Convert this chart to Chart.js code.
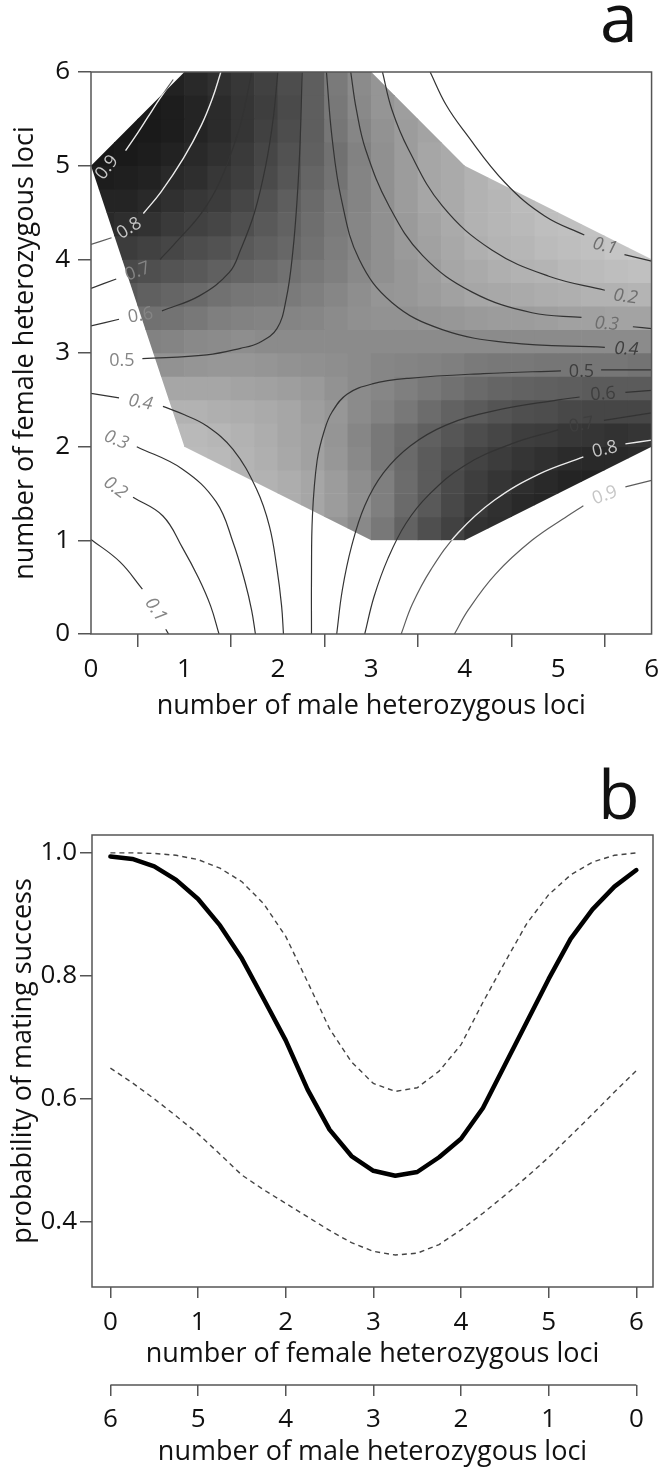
<!DOCTYPE html>
<html>
<head>
<meta charset="utf-8">
<script src="https://cdn.jsdelivr.net/npm/chart.js@4.4.1/dist/chart.umd.min.js"></script>
<style>
  html, body { margin: 0; padding: 0; background: #fff; }
  body { width: 666px; height: 1475px; position: relative; overflow: hidden; font-family: "Open Sans", sans-serif; }
  #wrapA { position: absolute; left: 0; top: 0; width: 666px; height: 740px; }
  #wrapB { position: absolute; left: 0; top: 740px; width: 666px; height: 735px; }
  .panel { position: absolute; font-size: 68px; line-height: 1; color: #111; }
</style>
</head>
<body>
<div id="wrapA"><canvas id="chartA"></canvas></div>
<div id="wrapB"><canvas id="chartB"></canvas></div>
<div class="panel" style="left:600px;top:-18px">a</div>
<div class="panel" style="left:598px;top:759px">b</div>
<script>
"use strict";

// ---------- panel a : shaded cells (0.25 x 0.25 grid, rows from y = 1.0 upward) ----------
const cellSize = 0.25;
const heatFirstRow = 4;
const heatStartCol = [10, 8, 6, 4, 3, 3, 3, 2, 2, 2, 1, 1, 1, 0, 0, 0, 0, 1, 2, 3];
const heatRows = [
  [33,38,45,54,62,68,74,76],
  [23,26,30,35,42,51,58,65,71,75,78,79],
  [20,21,23,26,30,36,42,50,57,64,69,73,76,78,80,81],
  [17,18,20,22,25,28,32,38,45,51,57,62,67,70,73,75,77,78,78,77],
  [18,18,19,21,23,26,28,33,39,45,50,55,59,63,66,69,70,72,73,74,73],
  [21,21,22,23,24,26,29,32,37,41,45,50,54,57,60,62,63,65,66,66,66],
  [26,26,26,27,28,29,31,34,37,39,42,45,48,51,53,54,55,56,57,57,57],
  [34,34,33,32,32,33,34,35,36,37,39,40,41,42,44,45,45,46,46,46,46,47],
  [41,40,38,37,36,37,37,37,37,37,37,37,37,37,37,37,37,37,37,37,37,37],
  [48,47,45,42,41,40,40,39,37,35,34,34,33,32,31,30,30,29,28,28,27,27],
  [58,55,53,51,48,46,45,44,42,39,36,33,32,30,28,26,25,24,23,22,21,21,20],
  [64,62,60,58,55,53,51,48,45,42,38,35,32,29,26,24,22,21,20,18,17,16,15],
  [70,68,66,63,61,58,55,52,48,43,39,35,31,28,25,22,20,19,17,16,15,13,12],
  [78,76,74,71,68,66,62,58,54,49,44,39,35,31,27,24,21,19,18,16,15,14],
  [80,80,78,75,72,70,66,61,56,51,45,40,35,30,26,24,21,19,17,16],
  [83,82,81,78,76,72,69,64,59,53,47,40,35,30,26,24,21,18],
  [85,84,83,81,78,75,71,66,61,55,48,41,35,30,26,24],
  [85,84,83,80,77,73,68,63,56,46,39,34,30,27],
  [84,83,80,77,73,69,64,56,45,38,33,29],
  [81,78,75,72,68,63,56,44,37,33]
];

// convex hull of the observed pairs
const hullX = [0, 1, 3, 4, 6, 6, 4, 3, 1];
const hullY = [5, 6, 6, 5, 4, 2, 1, 1, 2];

// contour branches (null = gap left for a label)
const c01a = [[0,1.01],[0.31,0.77],[0.55,0.48],null,[0.8,0.05],[0.83,0]];
const c01b = [[3.63,6],[3.8,5.65],[4.0,5.36],[4.43,4.82],[4.86,4.46],[5.28,4.26],null,[5.71,4.05],[6,3.98]];
const c02a = [[0.45,1.46],[0.77,1.26],[0.98,0.92],[1.15,0.6],[1.28,0.3],[1.37,0]];
const c02b = [[3.12,6],[3.22,5.6],[3.4,5.17],[3.76,4.57],[4.29,4.1],[4.9,3.82],[5.5,3.67]];
const c03a = [[0.49,2.0],[0.98,1.76],[1.34,1.41],[1.52,0.98],[1.65,0.55],[1.72,0.25],[1.76,0]];
const c03b = [[2.78,6],[2.84,5.6],[2.94,5.17],[3.19,4.57],[3.55,4.04],[4.08,3.65],[4.72,3.43],[5.25,3.38],null,[5.8,3.28],[6,3.26]];
const c04a = [[0,2.57],[0.3,2.52],null,[0.77,2.43],[1.0,2.34],[1.24,2.22],[1.52,1.97],[1.77,1.55],[1.91,1.15],[1.99,0.7],[2.04,0.3],[2.06,0]];
const c04b = [[2.52,6],[2.58,5.3],[2.68,4.64],[2.87,4.0],[3.22,3.54],[3.76,3.25],[4.47,3.11],[5.5,3.06]];
const c05a = [[0.55,2.94],[1.24,2.98],[1.6,3.05],[1.8,3.11],[1.99,3.26],[2.09,3.58],[2.16,4.08],[2.21,4.7],[2.24,5.3],[2.26,6]];
const c05b = [[2.36,0],[2.36,0.6],[2.37,1.26],[2.42,1.85],[2.5,2.18],[2.58,2.37],[2.74,2.56],[3.01,2.67],[3.4,2.73],[4.2,2.78],[5.03,2.81],null,[5.46,2.82],[6,2.82]];
const c06a = [[0,3.29],[0.3,3.36],null,[0.76,3.45],[1.16,3.61],[1.48,3.86],[1.6,4.1],[1.75,4.5],[1.87,5.0],[1.95,5.5],[2.0,6]];
const c06b = [[2.63,0],[2.69,0.47],[2.79,0.94],[2.93,1.37],[3.13,1.72],[3.42,2.01],[3.8,2.23],[4.3,2.38],[5.0,2.5],[5.23,2.53],null,[5.72,2.58],[6,2.6]];
const c07a = [[0,3.69],[0.27,3.79],null,[0.74,4.0],[0.88,4.15],[1.18,4.49],[1.38,4.83],[1.58,5.37],[1.66,5.7],[1.72,6]];
const c07b = [[2.93,0],[3.03,0.4],[3.18,0.81],[3.37,1.18],[3.62,1.49],[4.0,1.8],[4.5,2.03],[5.0,2.18],null,[5.49,2.28],[6,2.36]];
const c08a = [[0,4.16],[0.22,4.23],null,[0.56,4.49],[0.75,4.72],[0.99,5.08],[1.18,5.43],[1.3,5.72],[1.39,6]];
const c08b = [[3.32,0],[3.44,0.32],[3.64,0.69],[3.93,1.08],[4.32,1.43],[4.8,1.71],[5.27,1.89],null,[5.72,2.03],[6,2.07]];
const c09a = [[0.37,5.16],[0.5,5.35],[0.61,5.52],[0.74,5.72],[0.88,5.92]];
const c09b = [[3.89,0],[4.04,0.26],[4.33,0.64],[4.72,1.0],[5.1,1.26],[5.27,1.37],null,[5.72,1.57],[6,1.64]];

const contourBranches = [
  [0.1, c01a], [0.1, c01b], [0.2, c02a], [0.2, c02b], [0.3, c03a], [0.3, c03b],
  [0.4, c04a], [0.4, c04b], [0.5, c05a], [0.5, c05b], [0.6, c06a], [0.6, c06b],
  [0.7, c07a], [0.7, c07b], [0.8, c08a], [0.8, c08b], [0.9, c09a], [0.9, c09b]
];

const contourLabels = [
  {level: 0.9, x: 0.17, y: 4.98, angle: -52},
  {level: 0.8, x: 0.41, y: 4.33, angle: -32},
  {level: 0.7, x: 0.50, y: 3.87, angle: -20},
  {level: 0.6, x: 0.53, y: 3.40, angle: -10},
  {level: 0.5, x: 0.33, y: 2.92, angle: 0},
  {level: 0.4, x: 0.53, y: 2.47, angle: 10},
  {level: 0.3, x: 0.27, y: 2.07, angle: 22},
  {level: 0.2, x: 0.26, y: 1.56, angle: 36},
  {level: 0.1, x: 0.69, y: 0.26, angle: 56},
  {level: 0.1, x: 5.50, y: 4.14, angle: 14},
  {level: 0.2, x: 5.72, y: 3.60, angle: 8},
  {level: 0.3, x: 5.52, y: 3.31, angle: 4},
  {level: 0.4, x: 5.73, y: 3.04, angle: 3},
  {level: 0.5, x: 5.25, y: 2.80, angle: 0},
  {level: 0.6, x: 5.48, y: 2.56, angle: -4},
  {level: 0.7, x: 5.25, y: 2.23, angle: -10},
  {level: 0.8, x: 5.50, y: 1.97, angle: -14},
  {level: 0.9, x: 5.50, y: 1.48, angle: -20}
];

// ---------- panel b : fitted probability along the 6-locus diagonal ----------
const femaleLoci = [0,0.25,0.5,0.75,1,1.25,1.5,1.75,2,2.25,2.5,2.75,3,3.25,3.5,3.75,4,4.25,4.5,4.75,5,5.25,5.5,5.75,6];
const fitMean  = [0.994,0.990,0.978,0.956,0.925,0.882,0.828,0.762,0.695,0.615,0.550,0.507,0.483,0.475,0.481,0.505,0.535,0.585,0.655,0.725,0.795,0.860,0.908,0.945,0.972];
const fitUpper = [1.000,1.000,0.999,0.996,0.989,0.975,0.953,0.917,0.864,0.790,0.714,0.660,0.625,0.612,0.618,0.645,0.688,0.757,0.822,0.885,0.932,0.964,0.985,0.996,1.000];
const fitLower = [0.650,0.626,0.600,0.572,0.543,0.510,0.476,0.452,0.430,0.408,0.386,0.366,0.352,0.346,0.349,0.363,0.387,0.414,0.443,0.473,0.505,0.540,0.575,0.611,0.646];
const probTicks = [0.4, 0.6, 0.8, 1.0];
const lociTicks = [0, 1, 2, 3, 4, 5, 6];

// ---------- helpers ----------
const FONT = "Open Sans";
const INK = "#111";
const AXIS = "#555";

function shade(v) {
  const g = Math.max(0, Math.min(255, Math.round(228 - 2.4 * v)));
  return `rgb(${g},${g},${g})`;
}

function hullPath(chart) {
  const xs = chart.scales.x, ys = chart.scales.y;
  const p = new Path2D();
  hullX.forEach((hx, k) => {
    const px = xs.getPixelForValue(hx), py = ys.getPixelForValue(hullY[k]);
    if (k === 0) p.moveTo(px, py); else p.lineTo(px, py);
  });
  p.closePath();
  return p;
}

// clip a dataset to the inside / outside of the hull
const hullClip = {
  id: "hullClip",
  beforeDatasetDraw(chart, args) {
    const mode = chart.data.datasets[args.index].hullClip;
    if (!mode) return;
    const ctx = chart.ctx;
    ctx.save();
    const p = hullPath(chart);
    if (mode === "out") {
      const a = chart.chartArea;
      p.rect(a.left, a.top, a.right - a.left, a.bottom - a.top);
      ctx.clip(p, "evenodd");
    } else {
      ctx.clip(p);
    }
  },
  afterDatasetDraw(chart, args) {
    if (chart.data.datasets[args.index].hullClip) chart.ctx.restore();
  }
};

// label tone depends on what lies underneath it
function labelColor(l) {
  if (l.level >= 0.75) return "#c6c6c6";
  if (l.x > 3) {
    if (l.level >= 0.35) return "#3e3e3e";
    return "#6e6e6e";
  }
  return "#858585";
}

const contourText = {
  id: "contourText",
  afterDatasetsDraw(chart) {
    const {ctx, scales: {x, y}} = chart;
    contourLabels.forEach(l => {
      ctx.save();
      ctx.translate(x.getPixelForValue(l.x), y.getPixelForValue(l.y));
      ctx.rotate(l.angle * Math.PI / 180);
      ctx.font = (l.level < 0.45 ? "italic " : "") + `18px "${FONT}"`;
      ctx.fillStyle = labelColor(l);
      ctx.textAlign = "center";
      ctx.textBaseline = "middle";
      ctx.fillText(l.level.toFixed(1), 0, 0);
      ctx.restore();
    });
  }
};

const frame = {
  id: "frame",
  afterDatasetsDraw(chart) {
    const {ctx, chartArea: a} = chart;
    ctx.save();
    ctx.strokeStyle = AXIS;
    ctx.lineWidth = 1.5;
    ctx.strokeRect(a.left, a.top, a.right - a.left, a.bottom - a.top);
    ctx.restore();
  }
};

// second (male) axis line runs only from tick 6 to tick 0
const maleAxisLine = {
  id: "maleAxisLine",
  afterDraw(chart) {
    const s = chart.scales.x2;
    const ctx = chart.ctx;
    ctx.save();
    ctx.strokeStyle = AXIS;
    ctx.lineWidth = 1.5;
    ctx.beginPath();
    ctx.moveTo(s.getPixelForValue(lociTicks[lociTicks.length - 1]), s.top);
    ctx.lineTo(s.getPixelForValue(lociTicks[0]), s.top);
    ctx.stroke();
    ctx.restore();
  }
};

function tickFont() { return {family: FONT, size: 26}; }
function titleFont() { return {family: FONT, size: 27}; }

// ---------- panel a ----------
const heatData = [];
heatRows.forEach((row, r) => {
  const j = heatFirstRow + r;
  row.forEach((v, k) => {
    const i = heatStartCol[r] + k;
    heatData.push({x: (i + 0.5) * cellSize, y: [j * cellSize, (j + 1) * cellSize], v});
  });
});

function splitAtGaps(pts) {
  const segs = [];
  let cur = [];
  pts.forEach(p => {
    if (p === null) { if (cur.length) segs.push(cur); cur = []; }
    else cur.push({x: p[0], y: p[1]});
  });
  if (cur.length) segs.push(cur);
  return segs;
}

function contourSet(seg, color, width, clip) {
  return {
    type: "line", data: seg, borderColor: color, borderWidth: width,
    pointRadius: 0, tension: 0.4, fill: false, order: 1, hullClip: clip
  };
}

const contourSets = [];
contourBranches.forEach(([level, pts]) => {
  splitAtGaps(pts).forEach(seg => {
    if (level >= 0.75) {
      contourSets.push(contourSet(seg, "#ececec", 1.4, "in"));
      contourSets.push(contourSet(seg, "#5e5e5e", 1.2, "out"));
    } else {
      contourSets.push(contourSet(seg, "#333", 1.2, null));
    }
  });
});

new Chart(document.getElementById("chartA"), {
  type: "line",
  data: {
    datasets: [
      {
        type: "bar",
        data: heatData,
        backgroundColor: c => (c.raw ? shade(c.raw.v) : "#888"),
        borderWidth: 0,
        barPercentage: 1,
        categoryPercentage: 1,
        order: 10,
        hullClip: "in"
      },
      ...contourSets
    ]
  },
  options: {
    responsive: true,
    maintainAspectRatio: false,
    animation: false,
    events: [],
    layout: {padding: {top: 72, right: 13, left: 0, bottom: 0}},
    plugins: {legend: {display: false}, tooltip: {enabled: false}},
    scales: {
      x: {
        type: "linear", min: 0, max: 6, offset: false,
        afterFit: s => { s.height = 106; },
        ticks: {stepSize: 1, padding: 7, font: tickFont(), color: INK, maxRotation: 0},
        grid: {drawOnChartArea: false, drawTicks: true, tickLength: 13, color: AXIS, lineWidth: 1.5},
        border: {display: false},
        title: {display: true, text: "number of male heterozygous loci", font: titleFont(), color: INK, padding: {top: 0, bottom: 17}}
      },
      y: {
        type: "linear", min: 0, max: 6,
        afterFit: s => { s.width = 91; },
        ticks: {stepSize: 1, padding: 8, font: tickFont(), color: INK},
        grid: {drawOnChartArea: false, drawTicks: true, tickLength: 13, color: AXIS, lineWidth: 1.5},
        border: {display: false},
        title: {display: true, text: "number of female heterozygous loci", font: titleFont(), color: INK, padding: {top: 9, bottom: 0}}
      }
    }
  },
  plugins: [hullClip, contourText, frame]
});

// ---------- panel b ----------
const toPoints = vals => femaleLoci.map((f, i) => ({x: f, y: vals[i]}));
const setTicks = list => s => { s.ticks = list.map(v => ({value: v})); };

new Chart(document.getElementById("chartB"), {
  type: "line",
  data: {
    datasets: [
      {data: toPoints(fitMean), borderColor: "#000", borderWidth: 4.5, tension: 0, pointRadius: 0,
       borderCapStyle: "round", borderJoinStyle: "round", xAxisID: "x"},
      {data: toPoints(fitUpper), borderColor: "#444", borderWidth: 1.4, borderDash: [5, 4], tension: 0, pointRadius: 0, xAxisID: "x"},
      {data: toPoints(fitLower), borderColor: "#444", borderWidth: 1.4, borderDash: [5, 4], tension: 0, pointRadius: 0, xAxisID: "x"}
    ]
  },
  options: {
    responsive: true,
    maintainAspectRatio: false,
    animation: false,
    events: [],
    layout: {padding: {top: 95, right: 13, left: 0, bottom: 0}},
    plugins: {legend: {display: false}, tooltip: {enabled: false}},
    scales: {
      x: {
        type: "linear", position: "bottom", min: -0.21, max: 6.19,
        afterBuildTicks: setTicks(lociTicks),
        afterFit: s => { s.height = 98; },
        ticks: {padding: 9, font: tickFont(), color: INK, maxRotation: 0, callback: v => String(v)},
        grid: {drawOnChartArea: false, drawTicks: true, tickLength: 11, color: AXIS, lineWidth: 1.5},
        border: {display: false},
        title: {display: true, text: "number of female heterozygous loci", font: titleFont(), color: INK, padding: {top: 0, bottom: 14}}
      },
      x2: {
        type: "linear", axis: "x", position: "bottom", min: -0.19, max: 6.21, reverse: true,
        afterBuildTicks: setTicks(lociTicks),
        afterFit: s => { s.height = 90; },
        ticks: {padding: 8, font: tickFont(), color: INK, maxRotation: 0, callback: v => String(v)},
        grid: {drawOnChartArea: false, drawTicks: true, tickLength: 11, color: AXIS, lineWidth: 1.5},
        border: {display: false},
        title: {display: true, text: "number of male heterozygous loci", font: titleFont(), color: INK, padding: {top: 0, bottom: 6}}
      },
      y: {
        type: "linear", min: 0.294, max: 1.029,
        afterBuildTicks: setTicks(probTicks),
        afterFit: s => { s.width = 92; },
        ticks: {padding: 3, font: tickFont(), color: INK, callback: v => v.toFixed(1)},
        grid: {drawOnChartArea: false, drawTicks: true, tickLength: 12, color: AXIS, lineWidth: 1.5},
        border: {display: false},
        title: {display: true, text: "probability of mating success", font: titleFont(), color: INK, padding: {top: 7, bottom: 0}}
      }
    }
  },
  plugins: [frame, maleAxisLine]
});
</script>
</body>
</html>
